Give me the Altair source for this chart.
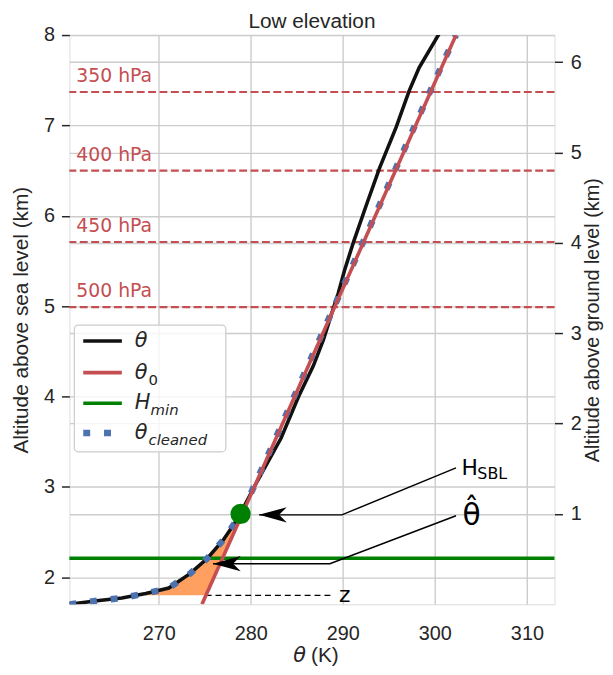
import altair as alt
import pandas as pd

# ---------------- values ----------------
theta_K = [260.3, 263.3, 266.0, 268.6, 271.1, 273.4, 275.3, 277.0, 278.6, 280.75,
           283.3, 285.2, 286.8, 287.9, 288.8, 289.5, 290.2, 291.2, 292.6, 294.0,
           295.8, 297.2, 298.3, 300.5]
theta_alt = [1.70, 1.74, 1.77, 1.82, 1.88, 2.04, 2.21, 2.41, 2.65, 3.07,
             3.54, 4.00, 4.34, 4.63, 4.92, 5.14, 5.40, 5.72, 6.13, 6.53,
             6.98, 7.38, 7.64, 8.02]
theta0_K = [274.7, 302.3]
theta0_alt = [1.70, 8.00]
clean_K = [260.3, 263.3, 266.0, 268.6, 271.1, 273.4, 275.3, 277.0, 278.6, 279.1,
           283.5, 287.9, 292.3, 296.7, 301.0, 302.3]
clean_alt = [1.70, 1.74, 1.77, 1.82, 1.88, 2.04, 2.21, 2.41, 2.65, 2.72,
             3.72, 4.73, 5.73, 6.74, 7.72, 8.00]
fill_alt = [1.80, 1.88, 2.04, 2.21, 2.41, 2.62]
fill_left_K = [268.5, 271.1, 273.4, 275.3, 277.0, 278.5]
fill_right_K = [275.1, 275.4, 276.1, 276.8, 277.7, 278.6]
hmin_alt = [2.21]
hsbl_K = [278.9]
hsbl_alt = [2.70]
z_K = [275.1, 288.9]
z_alt = [1.80, 1.80]
p_labels = ["350 hPa", "400 hPa", "450 hPa", "500 hPa"]
p_alt = [7.37, 6.50, 5.71, 4.99]
ground_alt = 1.70
x_domain = [260.3, 313.0]
y_domain = [1.70, 8.00]
x_ticks = [270, 280, 290, 300, 310]
y_ticks = [2, 3, 4, 5, 6, 7, 8]
yr_ticks = [1, 2, 3, 4, 5, 6]
# annotation arrows (data units): tip, elbow, end near text
hsbl_arrow_K = [280.9, 289.9, 302.3]
hsbl_arrow_alt = [2.69, 2.69, 3.21]
that_arrow_K = [275.9, 288.6, 302.3]
that_arrow_alt = [2.15, 2.15, 2.68]
hsbl_text_K = [302.9]
hsbl_text_alt = [3.13]
that_text_K = [303.0]
that_text_alt = [2.58]
z_text_K = [289.6]

# ---------------- styling ----------------
BLUE = "#4C72B0"
RED = "#C44E52"
GREEN = "#008000"
ORANGE = "#FFA060"
INK = "#262626"
SANS = "Liberation Sans"
MATH = "DejaVu Sans"

xscale = alt.Scale(domain=x_domain, nice=False, zero=False)
yscale = alt.Scale(domain=y_domain, nice=False, zero=False)

x_axis = alt.Axis(values=x_ticks, title=None, ticks=False, tickSize=0, labelPadding=20,
                  labelFontSize=20, labelFont=SANS, labelColor=INK, domain=False,
                  grid=True, gridColor="#cccccc", gridWidth=1.4)
y_axis = alt.Axis(values=y_ticks, title="Altitude above sea level (km)", tickSize=8,
                  tickColor=INK, tickWidth=1.5, labelPadding=7, labelFontSize=20,
                  labelFont=SANS, labelColor=INK, titleFontSize=21, titleFont=SANS,
                  titleFontWeight="normal", titleColor=INK, titlePadding=12,
                  domain=False, grid=True, gridColor="#cccccc", gridWidth=1.4)


def X(field="theta"):
    return alt.X(f"{field}:Q", scale=xscale, axis=x_axis)


def Y(field="alt"):
    return alt.Y(f"{field}:Q", scale=yscale, axis=y_axis)


theta_df = pd.DataFrame({"theta": theta_K, "alt": theta_alt})
theta0_df = pd.DataFrame({"theta": theta0_K, "alt": theta0_alt})
clean_df = pd.DataFrame({"theta": clean_K, "alt": clean_alt})
fill_df = pd.DataFrame({"alt": fill_alt, "theta": fill_left_K, "theta2": fill_right_K})
hmin_df = pd.DataFrame({"alt": hmin_alt})
hsbl_df = pd.DataFrame({"theta": hsbl_K, "alt": hsbl_alt})
z_df = pd.DataFrame({"theta": z_K, "alt": z_alt})
p_df = pd.DataFrame({"label": p_labels, "alt": p_alt})
hsbl_arrow_df = pd.DataFrame({"theta": hsbl_arrow_K, "alt": hsbl_arrow_alt, "o": [0, 1, 2]})
that_arrow_df = pd.DataFrame({"theta": that_arrow_K, "alt": that_arrow_alt, "o": [0, 1, 2]})
heads_df = pd.DataFrame({"theta": [hsbl_arrow_K[0], that_arrow_K[0]],
                         "alt": [hsbl_arrow_alt[0], that_arrow_alt[0]]})
one = pd.DataFrame({"k": [0]})

ARROW = "M0,0 L2,-0.55 L1.45,0 L2,0.55 Z"

layers = []
# pressure levels
layers.append(alt.Chart(p_df).mark_rule(color=RED, strokeWidth=2.2, strokeDash=[8, 3.5])
              .encode(y=Y()))
layers.append(alt.Chart(p_df).mark_text(color=RED, font=MATH, fontSize=19, align="left",
                                        baseline="alphabetic", dy=-10)
              .encode(x=alt.value(7), y=Y(), text="label:N"))
# orange area
layers.append(alt.Chart(fill_df).mark_area(color=ORANGE, orient="horizontal", opacity=1)
              .encode(y=Y(), x=X(), x2="theta2:Q"))
# z dashed
layers.append(alt.Chart(z_df).mark_line(color="black", strokeWidth=1.3, strokeDash=[6, 4])
              .encode(x=X(), y=Y()))
# H_min
layers.append(alt.Chart(hmin_df).mark_rule(color=GREEN, strokeWidth=3.5).encode(y=Y()))
# theta
layers.append(alt.Chart(theta_df).mark_line(color="#111111", strokeWidth=3.6, clip=True)
              .encode(x=X(), y=Y(), order="alt:Q"))
# theta cleaned
layers.append(alt.Chart(clean_df).mark_line(color=BLUE, strokeWidth=6.5, strokeDash=[7, 14],
                                            strokeCap="butt", clip=True)
              .encode(x=X(), y=Y(), order="alt:Q"))
# theta0
layers.append(alt.Chart(theta0_df).mark_line(color=RED, strokeWidth=3.6, clip=True)
              .encode(x=X(), y=Y()))
# H_SBL point
layers.append(alt.Chart(hsbl_df).mark_point(shape="circle", filled=True, color=GREEN,
                                            size=420, opacity=1)
              .encode(x=X(), y=Y()))
# annotation lines
for df in (hsbl_arrow_df, that_arrow_df):
    layers.append(alt.Chart(df).mark_line(color="black", strokeWidth=1.5)
                  .encode(x=X(), y=Y(), order="o:Q"))
layers.append(alt.Chart(heads_df).mark_point(shape=ARROW, filled=True, color="black",
                                             size=784, opacity=1, strokeWidth=0)
              .encode(x=X(), y=Y()))
# annotation texts
layers.append(alt.Chart(pd.DataFrame({"theta": hsbl_text_K, "alt": hsbl_text_alt}))
              .mark_text(text="H", font=MATH, fontSize=22, align="left", color="black",
                         baseline="alphabetic")
              .encode(x=X(), y=Y()))
layers.append(alt.Chart(pd.DataFrame({"theta": hsbl_text_K, "alt": hsbl_text_alt}))
              .mark_text(text="SBL", font=MATH, fontSize=16, align="left", color="black",
                         baseline="alphabetic", dx=16, dy=4)
              .encode(x=X(), y=Y()))
layers.append(alt.Chart(pd.DataFrame({"theta": that_text_K, "alt": that_text_alt}))
              .mark_text(text="θ̂", font=MATH, fontSize=30, align="left", color="black",
                         baseline="alphabetic")
              .encode(x=X(), y=Y()))
layers.append(alt.Chart(pd.DataFrame({"theta": z_text_K, "alt": [z_alt[0]]}))
              .mark_text(text="z", font=MATH, fontSize=22, align="left", color="black",
                         baseline="middle")
              .encode(x=X(), y=Y()))

# manual legend (plot pixel coordinates)
layers.append(alt.Chart(one).mark_rect(fill="white", fillOpacity=0.8, stroke="#cccccc",
                                       strokeWidth=1.2, cornerRadius=4)
              .encode(x=alt.value(5), x2=alt.value(158), y=alt.value(293), y2=alt.value(421)))
rows = [309, 341, 372, 402]
handle_styles = [
    dict(color="#111111", strokeWidth=3.6),
    dict(color=RED, strokeWidth=3.6),
    dict(color=GREEN, strokeWidth=3.5),
    dict(color=BLUE, strokeWidth=6.5, strokeDash=[7, 14], strokeCap="butt"),
]
mains = ["θ", "θ", "H", "θ"]
subs = ["", "0", "min", "cleaned"]
sub_style = ["normal", "normal", "italic", "italic"]
for r, st, m, s, ss in zip(rows, handle_styles, mains, subs, sub_style):
    layers.append(alt.Chart(one).mark_rule(**st)
                  .encode(x=alt.value(14), x2=alt.value(53), y=alt.value(r)))
    layers.append(alt.Chart(one).mark_text(text=m, font=MATH, fontStyle="italic",
                                           fontSize=21, align="left", baseline="middle",
                                           color=INK)
                  .encode(x=alt.value(66), y=alt.value(r)))
    if s:
        layers.append(alt.Chart(one).mark_text(text=s, font=MATH, fontStyle=ss,
                                               fontSize=15, align="left",
                                               baseline="middle", color=INK)
                      .encode(x=alt.value(80 if m == "θ" else 82), y=alt.value(r + 7)))

# x axis title
layers.append(alt.Chart(one).mark_text(text="θ", font=MATH, fontStyle="italic", fontSize=21,
                                       align="left", baseline="alphabetic", color=INK)
              .encode(x=alt.value(226), y=alt.value(633)))
layers.append(alt.Chart(one).mark_text(text="(K)", font=SANS, fontSize=21,
                                       align="left", baseline="alphabetic", color=INK)
              .encode(x=alt.value(244), y=alt.value(633)))

left = alt.layer(*layers)

right = alt.Chart(pd.DataFrame({"agl": [0.0, y_domain[1] - ground_alt]})).mark_point(
    opacity=0).encode(
    y=alt.Y("agl:Q", scale=alt.Scale(domain=[y_domain[0] - ground_alt, y_domain[1] - ground_alt],
                                     nice=False, zero=False),
            axis=alt.Axis(orient="right", values=yr_ticks,
                          title="Altitude above ground level (km)", titleAngle=270,
                          titleBaseline="top",
                          tickSize=8, tickColor=INK, tickWidth=1.5, labelPadding=8,
                          labelFontSize=20, labelFont=SANS, labelColor=INK,
                          titleFontSize=20, titleFont=SANS, titleFontWeight="normal",
                          titleColor=INK, titlePadding=1, domain=False, grid=True,
                          gridColor="#cccccc", gridWidth=1.4)))

chart = alt.layer(left, right).resolve_scale(y="independent").properties(
    width=490, height=575,
    title=alt.TitleParams("Low elevation", fontSize=21, font=SANS, fontWeight="normal",
                          color=INK, offset=-7),
    autosize=alt.AutoSizeParams(type="none"),
    padding={"left": 62, "top": 24, "right": 51, "bottom": 62},
).configure_view(stroke="#cccccc", strokeWidth=1.8).configure(background="white")

chart.save("out.html", embed_options={"renderer": "svg", "actions": False})
